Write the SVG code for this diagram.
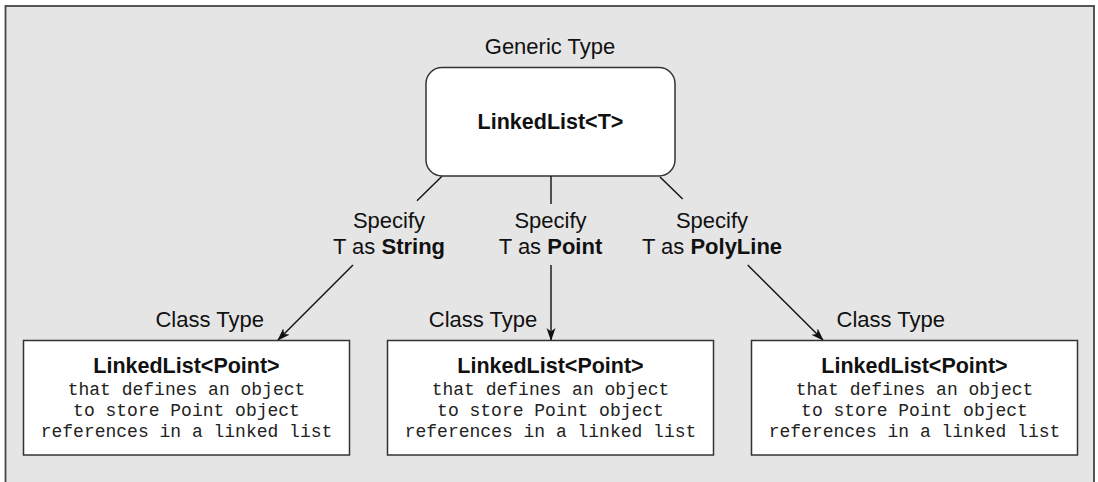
<svg xmlns="http://www.w3.org/2000/svg" width="1098" height="482" viewBox="0 0 1098 482">
<style>
.sans{font-family:"Liberation Sans",Arial,sans-serif;fill:#111;}
.lbl{font-size:22px;text-anchor:middle;}
.b{font-weight:bold;}
.title{font-size:21.5px;font-weight:bold;text-anchor:middle;}
.mono{font-family:"Liberation Mono","Courier New",monospace;font-size:18px;fill:#222;text-anchor:middle;}
.box{fill:#fff;stroke:#333;stroke-width:1.5;}
.conn{stroke:#111;stroke-width:1.4;fill:none;}
</style>
<defs>
<marker id="arr" markerWidth="13" markerHeight="10" refX="12" refY="4.5" orient="auto" markerUnits="userSpaceOnUse">
<path d="M0,0 L13,4.5 L0,9 L3.5,4.5 Z" fill="#111"/>
</marker>
</defs>
<rect x="5.5" y="6" width="1088.5" height="490" fill="#e5e5e5" stroke="#444" stroke-width="1.8"/>
<g id="generic">
<text class="sans lbl" x="550" y="54">Generic Type</text>
<rect class="box" x="426" y="67.5" width="249" height="108.5" rx="16" ry="16"/>
<text class="sans title" x="550.5" y="129">LinkedList&lt;T&gt;</text>
</g>
<g id="connectors">
<line class="conn" x1="441.7" y1="176.5" x2="417" y2="200.7"/>
<line class="conn" x1="353" y1="265" x2="278" y2="340" marker-end="url(#arr)"/>
<line class="conn" x1="551" y1="176" x2="551" y2="204"/>
<line class="conn" x1="551" y1="265" x2="551" y2="340" marker-end="url(#arr)"/>
<line class="conn" x1="660" y1="177" x2="682.7" y2="199"/>
<line class="conn" x1="747.7" y1="265" x2="823" y2="340" marker-end="url(#arr)"/>
</g>
<g id="label-string">
<text class="sans lbl" x="389" y="228">Specify</text>
<text class="sans lbl" x="389" y="254">T as <tspan class="b">String</tspan></text>
</g>
<g id="label-point">
<text class="sans lbl" x="550.5" y="228">Specify</text>
<text class="sans lbl" x="550.5" y="254">T as <tspan class="b">Point</tspan></text>
</g>
<g id="label-polyline">
<text class="sans lbl" x="712" y="228">Specify</text>
<text class="sans lbl" x="712" y="254">T as <tspan class="b">PolyLine</tspan></text>
</g>
<g id="class-left">
<text class="sans lbl" x="209.7" y="327.3">Class Type</text>
<rect class="box" x="23.5" y="340.5" width="326" height="114.5"/>
<text class="sans title" x="186.5" y="373.3">LinkedList&lt;Point&gt;</text>
<text class="mono" x="186.5" y="395">that defines an object</text>
<text class="mono" x="186.5" y="416">to store Point object</text>
<text class="mono" x="186.5" y="437">references in a linked list</text>
</g>
<g id="class-middle">
<text class="sans lbl" x="483" y="327.3">Class Type</text>
<rect class="box" x="387.5" y="340.5" width="326" height="114.5"/>
<text class="sans title" x="550.5" y="373.3">LinkedList&lt;Point&gt;</text>
<text class="mono" x="550.5" y="395">that defines an object</text>
<text class="mono" x="550.5" y="416">to store Point object</text>
<text class="mono" x="550.5" y="437">references in a linked list</text>
</g>
<g id="class-right">
<text class="sans lbl" x="890.8" y="327.3">Class Type</text>
<rect class="box" x="751.5" y="340.5" width="326" height="114.5"/>
<text class="sans title" x="914.5" y="373.3">LinkedList&lt;Point&gt;</text>
<text class="mono" x="914.5" y="395">that defines an object</text>
<text class="mono" x="914.5" y="416">to store Point object</text>
<text class="mono" x="914.5" y="437">references in a linked list</text>
</g>
</svg>
